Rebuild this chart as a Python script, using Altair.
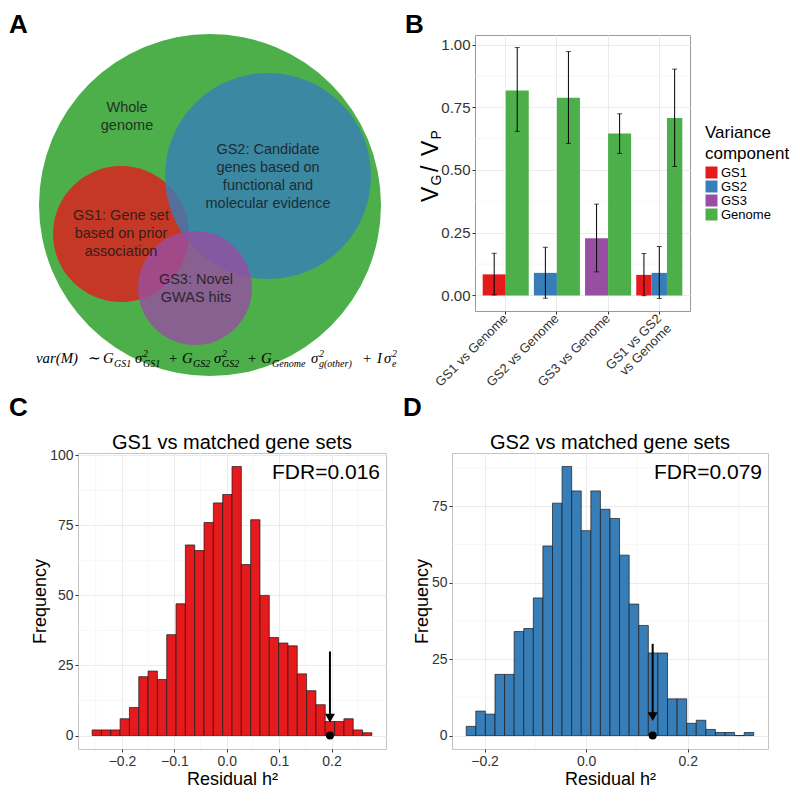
import altair as alt
import numpy as np
import pandas as pd

FONT = "Liberation Sans"
SERIF = "Liberation Serif"

# ---------------- Panel A : Venn diagram ----------------
venn_sets = ["Whole genome", "GS1", "GS2", "GS3"]
venn_cx = [209, 120, 267, 194]
venn_cy = [203, 232, 174, 286]
venn_r = [171, 68, 103, 57]
venn_colors = ["#4DAF4A", "#E41A1C", "#377EB8", "#984EA3"]
venn_opacity = [1.0, 0.8, 0.8, 0.8]

venn_text = ["Whole\ngenome",
             "GS2: Candidate\ngenes based on\nfunctional and\nmolecular evidence",
             "GS1: Gene set\nbased on prior\nassociation",
             "GS3: Novel\nGWAS hits"]
venn_text_x = [126, 267, 120, 195]
venn_text_y = [106, 148, 214, 278]   # first line of each label

# formula pieces: (x, text, role)
formula_pieces = [
    (35, "var(M)", "main"), (86, "\u223c", "main"), (102, "G", "main"), (113, "GS1", "sub"),
    (134, "\u03c3", "main"), (142, "2", "sup"), (142, "GS1", "sub"), (167, "+", "main"),
    (181, "G", "main"), (192, "GS2", "sub"), (213, "\u03c3", "main"), (221, "2", "sup"),
    (221, "GS2", "sub"), (246, "+", "main"), (260, "G", "main"), (271, "Genome", "sub"),
    (310, "\u03c3", "main"), (318, "2", "sup"), (318, "g(other)", "sub"), (361, "+", "main"),
    (376, "I", "main"), (383, "\u03c3", "main"), (391, "2", "sup"), (391, "e", "sub"),
]

# ---------------- Panel B : variance components ----------------
b_categories = ["GS1 vs Genome", "GS2 vs Genome", "GS3 vs Genome", "GS1 vs GS2 vs Genome"]
b_category = [b_categories[0]] * 2 + [b_categories[1]] * 2 + [b_categories[2]] * 2 + [b_categories[3]] * 3
b_component = ["GS1", "Genome", "GS2", "Genome", "GS3", "Genome", "GS1", "GS2", "Genome"]
b_value = [0.084, 0.817, 0.090, 0.788, 0.228, 0.645, 0.082, 0.090, 0.707]
b_lower = [0.002, 0.654, -0.011, 0.606, 0.094, 0.566, -0.001, -0.012, 0.514]
b_upper = [0.168, 0.988, 0.192, 0.972, 0.364, 0.724, 0.167, 0.195, 0.902]
components = ["GS1", "GS2", "GS3", "Genome"]
component_colors = ["#E41A1C", "#377EB8", "#984EA3", "#4DAF4A"]
b_ticks = [0.0, 0.25, 0.5, 0.75, 1.0]
b_minor = [0.125, 0.375, 0.625, 0.875]

# ---------------- Panels C, D : null distributions ----------------
c_counts = [2, 2, 2, 6, 10, 21, 23, 20, 36, 47, 68, 66, 76, 83, 86, 96, 61, 77, 50, 35,
            33, 32, 22, 16, 11, 5, 5, 6, 2, 1]
c_range = [-0.257, 0.277]
c_observed = 0.197
c_fdr = "FDR=0.016"
c_xticks = [-0.2, -0.1, 0.0, 0.1, 0.2]
c_xminor = [-0.25, -0.15, -0.05, 0.05, 0.15, 0.25]
c_yticks = [0, 25, 50, 75, 100]

d_counts = [3, 8, 7, 20, 20, 34, 35, 45, 62, 76, 88, 80, 67, 80, 74, 71, 59, 43, 36, 27,
            27, 12, 12, 4, 5, 2, 1, 1, 0, 1]
d_range = [-0.236, 0.330]
d_observed = 0.131
d_fdr = "FDR=0.079"
d_xticks = [-0.2, 0.0, 0.2]
d_xminor = [-0.1, 0.1, 0.3]
d_yticks = [0, 25, 50, 75]

y_minor = [12.5, 37.5, 62.5, 87.5]
arrow_top, arrow_head = 30, 6.2

GRID = "#ebebeb"
GRID_MINOR = "#f4f4f4"


def text_at(text, x, y, **kw):
    font = kw.pop("font", FONT)
    return alt.Chart(pd.DataFrame({"t": [text]})).mark_text(text=text, font=font, **kw).encode(
        x=alt.value(x), y=alt.value(y))


# ---------- A ----------
A_X0, A_X1, A_Y0, A_Y1 = 77, 398, 33, 373
A_W, A_H = A_X1 - A_X0, A_Y1 - A_Y0
xA = alt.Scale(domain=[A_X0, A_X1], nice=False, zero=False)
yA = alt.Scale(domain=[A_Y0, A_Y1], nice=False, zero=False, reverse=True)
venn_df = pd.DataFrame({"set": venn_sets, "cx": venn_cx, "cy": venn_cy, "r": venn_r,
                        "col": venn_colors, "op": venn_opacity, "idx": list(range(len(venn_sets)))})
venn_df["area"] = (2 * venn_df["r"]) ** 2
circles = alt.Chart(venn_df).mark_circle(strokeWidth=0).encode(
    x=alt.X("cx:Q", scale=xA, axis=None),
    y=alt.Y("cy:Q", scale=yA, axis=None),
    size=alt.Size("area:Q", scale=None),
    color=alt.Color("col:N", scale=None),
    opacity=alt.Opacity("op:Q", scale=None),
    order=alt.Order("idx:Q"),
)
vl_df = pd.DataFrame({"t": venn_text, "x": venn_text_x, "y": venn_text_y})
vlabels = alt.Chart(vl_df).mark_text(font=FONT, fontSize=14.5, lineBreak="\n", lineHeight=18,
                                     color="#1a1a1a", opacity=0.85, align="center",
                                     baseline="middle").encode(
    x=alt.X("x:Q", scale=xA, axis=None), y=alt.Y("y:Q", scale=yA, axis=None), text="t:N")
f_df = pd.DataFrame(formula_pieces, columns=["x", "t", "role"])
f_df["fs"] = f_df["role"].map({"main": 14.8, "sub": 10, "sup": 10})
f_df["y"] = f_df["role"].map({"main": 361, "sub": 365, "sup": 355})
formula = alt.Chart(f_df).mark_text(font=SERIF, fontStyle="italic", align="left",
                                    baseline="alphabetic", color="black").encode(
    x=alt.X("x:Q", scale=xA, axis=None), y=alt.Y("y:Q", scale=yA, axis=None),
    text="t:N", size=alt.Size("fs:Q", scale=None))
letterA = text_at("A", 8 - A_X0, -2, fontSize=26, fontWeight="bold", align="left",
                  baseline="alphabetic")
panelA = alt.layer(circles, vlabels, formula, letterA).properties(width=A_W, height=A_H)

# ---------- B ----------
B_W, B_H = 215, 276
b_df = pd.DataFrame({"category": b_category, "component": b_component, "value": b_value,
                     "lower": b_lower, "upper": b_upper})
b_df["slot"] = b_df.groupby("category").cumcount().astype(str)
b_df13 = b_df[b_df["category"] != b_categories[3]]
b_df4 = b_df[b_df["category"] == b_categories[3]]

xB_scale = alt.Scale(domain=b_categories, paddingInner=0.1, paddingOuter=0.15)
xB_axis = alt.Axis(title=None, labelAngle=315, labelAlign="right", labelBaseline="middle",
                   labelFontSize=13, labelPadding=2, tickSize=3, grid=True, bandPosition=0.5,
                   labelLineHeight=14,
                   labelExpr="datum.value == 'GS1 vs GS2 vs Genome' ? ['GS1 vs GS2', 'vs Genome'] : datum.label")
yB_scale = alt.Scale(domain=[-0.062, 1.038], nice=False, zero=False)
yB_axis = alt.Axis(title=None, values=b_ticks, format=".2f", labelFontSize=15, labelPadding=2,
                   tickSize=3, grid=True)
colorB = alt.Color("component:N", scale=alt.Scale(domain=components, range=component_colors),
                   legend=alt.Legend(title=["Variance", "component"], orient="none",
                                     legendX=230, legendY=90, titleFontSize=17,
                                     titleFontWeight="normal", titleLineHeight=21, titleFont=FONT,
                                     titleColor="black", labelFontSize=13, labelFont=FONT,
                                     labelColor="black", symbolType="square", symbolSize=144,
                                     symbolStrokeWidth=0, symbolOpacity=1, rowPadding=0,
                                     labelOffset=3, titlePadding=3))


def b_layer(df):
    base = alt.Chart(df)
    ex = alt.X("category:N", scale=xB_scale, axis=xB_axis)
    off = alt.XOffset("slot:N")
    bars = base.mark_bar().encode(x=ex, xOffset=off,
                                  y=alt.Y("value:Q", scale=yB_scale, axis=yB_axis), color=colorB)
    rules = base.mark_rule(color="black", strokeWidth=1).encode(
        x=ex, xOffset=off, y=alt.Y("lower:Q", scale=yB_scale, axis=yB_axis), y2="upper:Q")
    capl = base.mark_tick(color="black", thickness=1, size=5).encode(
        x=ex, xOffset=off, y=alt.Y("lower:Q", scale=yB_scale, axis=yB_axis))
    capu = base.mark_tick(color="black", thickness=1, size=5).encode(
        x=ex, xOffset=off, y=alt.Y("upper:Q", scale=yB_scale, axis=yB_axis))
    return alt.layer(bars, rules, capl, capu)


minorB = alt.Chart(pd.DataFrame({"v": b_minor})).mark_rule(color=GRID_MINOR, strokeWidth=0.7).encode(
    y=alt.Y("v:Q", scale=yB_scale, axis=yB_axis))
title_big = dict(fontSize=23, angle=270, align="left", baseline="alphabetic", color="black")
title_small = dict(fontSize=14, angle=270, align="left", baseline="alphabetic", color="black")
ytitle = [
    text_at("V", -37, 167, **title_big),
    text_at("G", -34, 150.5, **title_small),
    text_at("/", -37, 137, **title_big),
    text_at("V", -37, 121, **title_big),
    text_at("P", -34, 104.5, **title_small),
]
letterB = text_at("B", -70, -2, fontSize=26, fontWeight="bold", align="left", baseline="alphabetic")
panelB = alt.layer(minorB, b_layer(b_df13), b_layer(b_df4), *ytitle, letterB).resolve_scale(
    xOffset="independent").properties(width=B_W, height=B_H,
                                      view=alt.ViewBackground(stroke="#9a9a9a", strokeWidth=1))


# ---------- C, D ----------
def hist_panel(counts, rng, observed, fill, xdom, ydom, xmaj, xmin, ymaj, title, fdr, letter,
               W, H, yext, letter_x):
    edges = np.linspace(rng[0], rng[1], len(counts) + 1)
    df = pd.DataFrame({"lo": edges[:-1], "hi": edges[1:], "count": counts, "zero": 0})
    xs = alt.Scale(domain=xdom, nice=False, zero=False)
    ys = alt.Scale(domain=ydom, nice=False, zero=False)
    xax = alt.Axis(values=xmaj, format=".1f", title="Residual h\u00b2", labelFontSize=14,
                   labelPadding=2, tickSize=3, titleFontSize=18, titlePadding=2, grid=True)
    yax = alt.Axis(values=ymaj, format="d", title="Frequency", labelFontSize=14, labelPadding=2,
                   tickSize=3, titleFontSize=18, titlePadding=2, grid=True,
                   minExtent=yext, maxExtent=yext)
    gx = alt.Chart(pd.DataFrame({"v": xmin})).mark_rule(color=GRID_MINOR, strokeWidth=0.7).encode(
        x=alt.X("v:Q", scale=xs, axis=xax))
    gy = alt.Chart(pd.DataFrame({"v": y_minor})).mark_rule(color=GRID_MINOR, strokeWidth=0.7).encode(
        y=alt.Y("v:Q", scale=ys, axis=yax))
    bars = alt.Chart(df).mark_bar(color=fill, stroke="#1a1a1a", strokeWidth=0.7, opacity=1).encode(
        x=alt.X("lo:Q", scale=xs, axis=xax), x2="hi:Q",
        y=alt.Y("count:Q", scale=ys, axis=yax), y2="zero:Q")
    adf = pd.DataFrame({"x": [observed], "top": [arrow_top], "head": [arrow_head], "base": [0]})
    ab = alt.Chart(adf)
    shaft = ab.mark_rule(color="black", strokeWidth=2).encode(
        x=alt.X("x:Q", scale=xs, axis=xax), y=alt.Y("top:Q", scale=ys, axis=yax), y2="head:Q")
    head = ab.mark_point(shape="triangle-down", filled=True, size=100, color="black", opacity=1).encode(
        x=alt.X("x:Q", scale=xs, axis=xax), y=alt.Y("head:Q", scale=ys, axis=yax))
    dot = ab.mark_circle(size=64, color="black", opacity=1).encode(
        x=alt.X("x:Q", scale=xs, axis=xax), y=alt.Y("base:Q", scale=ys, axis=yax))
    ttl = text_at(title, W / 2, -4, fontSize=20, align="center", baseline="alphabetic", color="black")
    fdr_t = text_at(fdr, W - 6, 26, fontSize=21, align="right", baseline="alphabetic", color="black")
    let = text_at(letter, letter_x, -37, fontSize=26, fontWeight="bold", align="left",
                  baseline="alphabetic")
    return alt.layer(gx, gy, bars, shaft, head, dot, ttl, fdr_t, let).properties(
        width=W, height=H, view=alt.ViewBackground(stroke="#c4c4c4", strokeWidth=1))


panelC = hist_panel(c_counts, c_range, c_observed, "#E41A1C", [-0.284, 0.304], [-4.8, 100.8],
                    c_xticks, c_xminor, c_yticks, "GS1 vs matched gene sets", c_fdr, "C",
                    308, 296, 27, -69)
panelD = hist_panel(d_counts, d_range, d_observed, "#377EB8", [-0.264, 0.358], [-4.4, 92.4],
                    d_xticks, d_xminor, d_yticks, "GS2 vs matched gene sets", d_fdr, "D",
                    316, 296, 19, -49)

row1 = alt.hconcat(panelA, panelB, spacing=4).resolve_scale(color="independent")
row2 = alt.hconcat(panelC, panelD, spacing=15).resolve_scale(color="independent")
chart = alt.vconcat(row1, row2, spacing=4).resolve_scale(color="independent").properties(
    padding={"left": 0, "top": 3, "right": 0, "bottom": 0}).configure(
    font=FONT).configure_view(stroke="transparent").configure_axis(
    domain=False, tickColor="#333333", tickWidth=1, labelColor="#333333", labelFont=FONT,
    titleFont=FONT, titleFontWeight="normal", titleColor="black", gridColor=GRID, gridWidth=1)

chart.save("out.html", embed_options={"renderer": "svg", "actions": False})
